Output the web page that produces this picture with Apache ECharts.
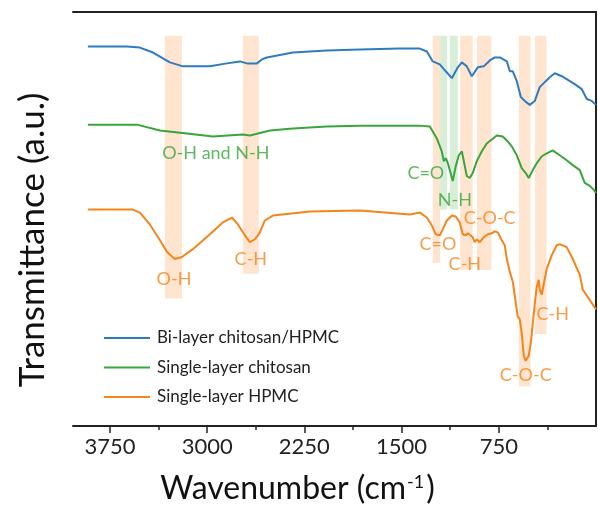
<!DOCTYPE html>
<html>
<head>
<meta charset="utf-8">
<script src="https://cdn.jsdelivr.net/npm/echarts@6/dist/echarts.min.js"></script>
<style>
  html, body { margin: 0; padding: 0; background: #fff; }
  #chart { width: 598px; height: 510px; }
</style>
</head>
<body>
<div id="chart"></div>
<script>
// FTIR spectra, wavenumber (cm-1) vs transmittance (a.u.)
var wnBlue = [3920,3619,3519,3418,3287,3187,2979,2848,2747,2693,2616,2578,2539,2339,2076,1822,1514,1359,1305,1259,1205,1159,1112,1066,1035,997,958,912,866,819,781,742,688,665,642,611,580,542,511,472,434,388,357,318,264,164,110,71,33,0];
var tBlue = [384,384,383,378,368,364,364,367,369,367,367,371,373,378,380,381,382,382,379,369,366,359,352,363,368,364,354,363,364,370,373,373,369,359,359,349,333,328,325,329,343,349,353,357,354,346,341,331,329,325];

var wnGreen = [3920,3542,3364,3156,2956,2724,2670,2516,2339,2076,1822,1514,1359,1282,1228,1190,1174,1159,1143,1128,1105,1082,1058,1035,1012,997,974,951,920,881,843,804,765,719,681,650,611,573,542,519,488,457,418,380,334,280,226,179,125,87,48,17,0];
var tGreen = [305,305,299,296,293,295,294,299,301,303,304,304,304,303,291,278,268,271,266,259,248,263,274,278,263,253,251,256,268,278,286,290,294,293,288,283,274,261,256,251,259,266,273,276,279,274,269,264,259,246,243,239,236];

var wnOrange = [3920,3573,3519,3442,3364,3310,3249,3195,3110,2979,2879,2809,2763,2709,2670,2632,2609,2593,2555,2493,2208,1822,1436,1359,1305,1267,1236,1205,1182,1151,1112,1082,1051,1028,1005,989,974,951,935,920,897,866,835,804,781,758,727,704,688,665,642,604,588,573,557,542,519,503,488,472,457,442,434,418,403,380,341,303,280,226,179,125,102,25,0];
var tOrange = [219,219,216,204,188,176,169,171,179,194,206,211,204,193,186,189,193,196,208,213,217,218,214,216,211,203,194,193,199,208,213,212,206,194,193,195,193,191,186,189,186,191,194,195,197,196,188,183,169,156,146,111,108,94,71,66,71,84,104,124,141,148,138,133,144,159,173,183,184,181,169,153,138,123,118];

var seriesNames = ['Bi-layer chitosan/HPMC', 'Single-layer chitosan', 'Single-layer HPMC'];

// highlighted absorption bands
var bandFrom = [3326, 2724, 1259, 1202, 1128, 1048, 918, 595, 471];
var bandTo   = [3195, 2601, 1202, 1148, 1066, 951, 806, 505, 383];
var bandLow  = [129, 154, 165, 219, 219, 158, 158, 40, 93];
var bandHigh = [395, 395, 395, 395, 395, 395, 395, 395, 395];
var bandKind = ['o', 'o', 'o', 'g', 'g', 'o', 'o', 'o', 'o'];

// peak assignments [text, wavenumber, transmittance]
var greenLabels = [['O-H and N-H', 2933, 276], ['C=O', 1313, 256], ['N-H', 1089, 229]];
var orangeLabels = [['O-H', 3256, 149], ['C-H', 2663, 169], ['C=O', 1220, 184], ['C-H', 1012, 164],
                    ['C-O-C', 820, 210], ['C-H', 334, 113], ['C-O-C', 542, 51]];

var majorTicks = [750, 1500, 2250, 3000, 3750];
var minorTicks = [375, 1125, 1875, 2625, 3375];

var C_BLUE = '#2f7bbf', C_GREEN = '#3aa53a', C_ORANGE = '#f5841a';
var FONT = 'Lato';

function zip(a, b) {
  return a.map(function (v, i) { return [v, b[i]]; });
}

var bands = bandFrom.map(function (f, i) {
  var col = bandKind[i] === 'g' ? 'rgba(44,160,44,0.18)' : 'rgba(255,127,14,0.2)';
  return [
    { xAxis: f, yAxis: bandHigh[i], itemStyle: { color: col } },
    { xAxis: bandTo[i], yAxis: bandLow[i] }
  ];
});

function labelData(list) {
  return list.map(function (d) { return { name: d[0], value: [d[1], d[2]] }; });
}

var chart = echarts.init(document.getElementById('chart'));

var xBase = { type: 'value', min: 0, max: 4035, inverse: true, splitLine: { show: false } };

var option = {
  animation: false,
  textStyle: { fontFamily: FONT },
  grid: { left: 73, right: 2, top: 12, bottom: 79 },
  legend: {
    orient: 'vertical',
    left: 99, top: 324,
    data: seriesNames,
    icon: 'rect',
    itemWidth: 46, itemHeight: 2,
    itemGap: 11.5,
    textStyle: { fontFamily: FONT, fontSize: 17, color: '#222', lineHeight: 18, padding: [0, 0, 0, 2] }
  },
  xAxis: [
    Object.assign({}, xBase, {
      position: 'bottom',
      interval: 750,
      axisLine: { lineStyle: { color: '#222', width: 2 } },
      axisTick: { show: true, length: 7, customValues: majorTicks, lineStyle: { color: '#222', width: 1.5 } },
      axisLabel: {
        customValues: majorTicks, fontSize: 22, color: '#222', margin: 10, fontFamily: FONT,
        formatter: function (v) { return String(v); }
      },
      name: 'Wavenumber (cm{sup|-1})',
      nameLocation: 'middle',
      nameGap: 47,
      nameTextStyle: {
        fontSize: 32, color: '#111', fontFamily: FONT,
        padding: [0, 74, 0, 0],
        rich: { sup: { fontSize: 18, verticalAlign: 'top', padding: [0, 2, 14, 1], fontFamily: FONT, color: '#111' } }
      }
    }),
    Object.assign({}, xBase, {
      position: 'bottom',
      axisLine: { show: false },
      axisTick: { show: true, length: 4, customValues: minorTicks, lineStyle: { color: '#222', width: 1.5 } },
      axisLabel: { show: false }
    }),
    Object.assign({}, xBase, {
      position: 'top',
      axisLine: { lineStyle: { color: '#222', width: 2 } },
      axisTick: { show: false },
      axisLabel: { show: false }
    })
  ],
  yAxis: {
    type: 'value', min: 0, max: 419,
    axisLine: { show: true, lineStyle: { color: '#222', width: 2 } },
    axisTick: { show: false },
    axisLabel: { show: false },
    splitLine: { show: false }
  },
  graphic: [{
    type: 'text',
    x: 33, y: 240,
    rotation: Math.PI / 2,
    style: {
      text: 'Transmittance (a.u.)',
      fontFamily: FONT, fontSize: 35, fill: '#111',
      align: 'center', verticalAlign: 'middle'
    }
  }],
  series: [
    {
      name: 'bands', type: 'line', data: [], z: 1, silent: true,
      markArea: { silent: true, data: bands }
    },
    {
      name: seriesNames[0], type: 'line', data: zip(wnBlue, tBlue), z: 3,
      showSymbol: false, color: C_BLUE, lineStyle: { width: 2 }
    },
    {
      name: seriesNames[1], type: 'line', data: zip(wnGreen, tGreen), z: 3,
      showSymbol: false, color: C_GREEN, lineStyle: { width: 2 }
    },
    {
      name: seriesNames[2], type: 'line', data: zip(wnOrange, tOrange), z: 3,
      showSymbol: false, color: C_ORANGE, lineStyle: { width: 2 }
    },
    {
      name: 'green labels', type: 'scatter', data: labelData(greenLabels), z: 5,
      symbolSize: 0, silent: true,
      label: { show: true, position: 'inside', formatter: '{b}', color: C_GREEN, fontSize: 18, fontFamily: FONT }
    },
    {
      name: 'orange labels', type: 'scatter', data: labelData(orangeLabels), z: 5,
      symbolSize: 0, silent: true,
      label: { show: true, position: 'inside', formatter: '{b}', color: C_ORANGE, fontSize: 18, fontFamily: FONT }
    }
  ]
};

chart.setOption(option);
</script>
</body>
</html>
